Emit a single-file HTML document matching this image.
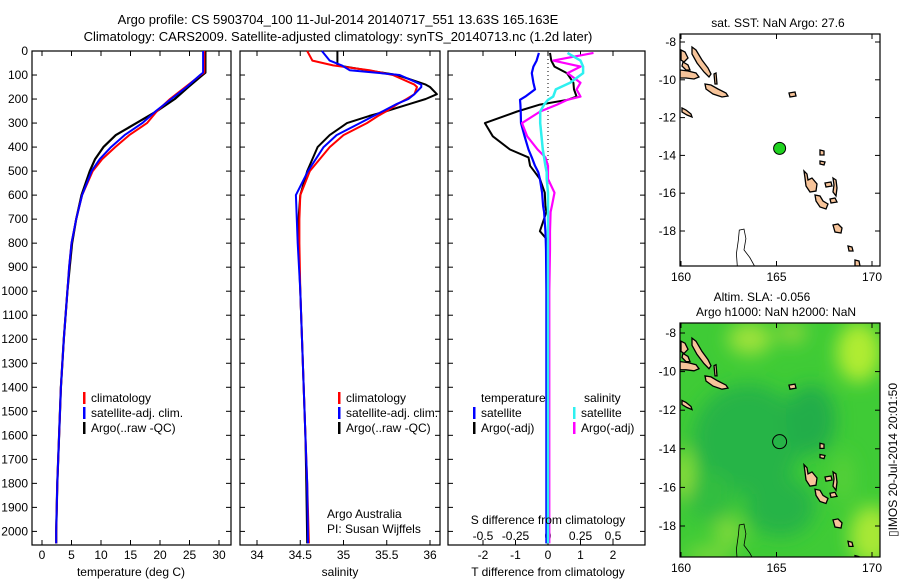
<!DOCTYPE html>
<html><head><meta charset="utf-8"><style>
body{margin:0;background:#fff;}
svg{display:block;font-family:"Liberation Sans",sans-serif;}
</style></head><body>
<svg id="fig" width="900" height="580" viewBox="0 0 900 580" xmlns="http://www.w3.org/2000/svg">
<text x="338" y="24" font-size="13" text-anchor="middle">Argo profile: CS 5903704_100 11-Jul-2014 20140717_551 13.63S 165.163E</text>
<text x="338" y="41" font-size="13" text-anchor="middle">Climatology: CARS2009. Satellite-adjusted climatology: synTS_20140713.nc (1.2d later)</text>
<g id="g1"></g>
<g id="g2"></g>
<g id="g3"></g>
<g id="m1"></g>
<g id="m2"></g>
<text x="778" y="27" font-size="12" text-anchor="middle">sat. SST: NaN Argo: 27.6</text>
<text x="762" y="301" font-size="12" text-anchor="middle">Altim. SLA: -0.056</text>
<text x="776" y="316" font-size="12" text-anchor="middle">Argo h1000: NaN h2000: NaN</text>
<text x="0" y="0" font-size="12" text-anchor="middle" transform="translate(897,460) rotate(-90)">▯IMOS 20-Jul-2014 20:01:50</text>
</svg>
<script>
// ---- data ----
const depthT   = [0,90,100,150,200,250,300,350,400,450,500,600,700,800,900,1000,1200,1400,1600,1800,2000,2050];
const tempArgo = [27.7,27.7,27.2,24.8,22.5,19.5,16.0,12.5,10.4,9.0,8.1,6.7,5.8,5.1,4.7,4.3,3.7,3.2,2.9,2.6,2.4,2.4];
const tempClim = [27.5,27.5,26.9,24.3,21.7,19.5,17.8,14.8,12.4,10.2,8.6,6.8,5.8,5.0,4.6,4.3,3.7,3.2,2.9,2.6,2.4,2.4];
const tempSat  = [27.3,27.3,26.8,24.5,21.9,19.3,17.0,14.0,11.7,9.8,8.4,6.8,5.8,5.0,4.6,4.3,3.7,3.2,2.9,2.6,2.4,2.4];
const depthS   = [0,40,60,80,100,140,150,180,200,220,250,270,300,350,400,500,600,700,800,1000,1200,1400,1600,1800,2050];
const salArgo  = [34.93,34.93,34.93,35.27,35.62,35.95,36.0,36.08,35.95,35.77,35.5,35.3,35.04,34.84,34.7,34.58,34.5,34.48,34.48,34.5,34.52,34.54,34.56,34.57,34.58];
const salClim  = [34.58,34.64,34.88,35.3,35.57,35.82,35.85,35.82,35.73,35.63,35.5,35.4,35.27,35.0,34.84,34.61,34.5,34.49,34.49,34.5,34.52,34.54,34.56,34.58,34.6];
const salSat   = [34.75,34.84,34.98,35.07,35.65,35.9,35.9,35.82,35.75,35.62,35.46,35.35,35.19,34.92,34.77,34.59,34.45,34.46,34.47,34.5,34.52,34.54,34.56,34.58,34.59];
const depthD   = [8,40,65,92,132,160,190,203,223,252,300,355,410,443,478,505,533,590,645,670,750,782,825,1000,1500,2050];
const dTsat    = [-0.28,-0.35,-0.45,-0.5,-0.45,-0.4,-0.7,-0.86,-0.85,-0.84,-0.83,-0.72,-0.6,-0.5,-0.4,-0.3,-0.25,-0.18,-0.15,-0.12,-0.08,-0.07,-0.06,-0.05,-0.05,-0.05];
const dTargo   = [0.06,0.1,0.2,0.58,0.78,0.8,0.88,0.6,-0.25,-0.95,-1.94,-1.7,-1.17,-0.6,-0.55,-0.4,-0.25,-0.1,-0.08,-0.05,-0.25,-0.05,-0.03,-0.03,-0.03,-0.03];
const dSsat    = [0.15,0.25,0.27,0.27,0.17,0.06,0.04,0.0,-0.03,-0.06,-0.06,-0.05,-0.04,-0.03,-0.02,-0.01,-0.01,0,0,0,0,0,0,0,0,0];
const dSargo   = [0.35,0.04,0.25,0.15,0.25,0.22,0.25,0.15,0.07,-0.06,-0.2,-0.16,-0.08,-0.02,0.0,0.0,0.0,0.05,0.03,0.02,0.015,0.015,0.015,0.01,0.01,0.01];
const depthTicks = [0,100,200,300,400,500,600,700,800,900,1000,1100,1200,1300,1400,1500,1600,1700,1800,1900,2000];
const tTicks = [0,5,10,15,20,25,30];
const sTicks = [34,34.5,35,35.5,36];
const sTickLbl = ["34","34.5","35","35.5","36"];
const dtTicks = [-2,-1,0,1,2];
const dsTicks = [-0.5,-0.25,0,0.25,0.5];
const dsTickLbl = ["-0.5","-0.25","0","0.25","0.5"];
const lonTicks = [160,165,170];
const latTicks = [-8,-10,-12,-14,-16,-18];
const floatLon = 165.163, floatLat = -13.63;

const NS="http://www.w3.org/2000/svg";
function mk(parent,tag,attrs){const e=document.createElementNS(NS,tag);for(const k in attrs)e.setAttribute(k,attrs[k]);parent.appendChild(e);return e;}
const yD = d => 51 + d*0.2402;
const xT = t => 42 + t*5.9;
const xS = s => 257 + (s-34)*86.5;
const xDT = v => 548 + v*32.5;
const xDS = v => 548 + v*130;
const TOP=51, BOT=545;

function frame(g,x0,x1){
  const r=mk(g,'rect',{x:x0,y:TOP,width:x1-x0,height:BOT-TOP,fill:'none',stroke:'#000','stroke-width':1.2});
  
  
}
function xTicks(g,vals,fx,labels,ly,name){
  vals.forEach((v,i)=>{
    const x=fx(v);
    mk(g,'line',{x1:x,x2:x,y1:TOP,y2:TOP+5,stroke:'#000'});
    mk(g,'line',{x1:x,x2:x,y1:BOT,y2:BOT-5,stroke:'#000'});
    const t=mk(g,'text',{x:x,y:ly,'font-size':12,'text-anchor':'middle'});
    t.textContent=labels?labels[i]:String(v);
    
    
  });
}
function line(g,xs,ds,fx,col,w,name){
  const pts=xs.map((v,i)=>fx(v).toFixed(1)+','+yD(ds[i]).toFixed(1)).join(' ');
  const p=mk(g,'polyline',{points:pts,fill:'none',stroke:col,'stroke-width':w,'stroke-linejoin':'round'});
  
  
}
function txt(g,x,y,s,name,anchor){
  const t=mk(g,'text',{x:x,y:y,'font-size':12,'text-anchor':anchor||'start'});
  t.textContent=s;
  
  
}
function legend(g,x,y,col,label,name){
  mk(g,'rect',{x:x,y:y-10,width:2.5,height:12,fill:col});
  txt(g,x+8,y,label,name);
}

// panel 1
const g1=document.getElementById('g1');
frame(g1,32,231);
depthTicks.forEach(d=>{
  mk(g1,'line',{x1:32,x2:37,y1:yD(d),y2:yD(d),stroke:'#000'});
  mk(g1,'line',{x1:226,x2:231,y1:yD(d),y2:yD(d),stroke:'#000'});
  const t=mk(g1,'text',{x:28,y:yD(d)+4,'font-size':12,'text-anchor':'end'});
  t.textContent=String(d);
  
  
});
xTicks(g1,tTicks,xT,null,559,'temperature-tick-label');
line(g1,tempArgo,depthT,xT,'#000',2.2,'temperature-argo-line');
line(g1,tempClim,depthT,xT,'#f00',2,'temperature-climatology-line');
line(g1,tempSat,depthT,xT,'#00f',2,'temperature-satellite-line');
txt(g1,131,576,'temperature (deg C)','temperature-axis-title','middle');
legend(g1,83,402,'#f00','climatology','legend-climatology');
legend(g1,83,417,'#00f','satellite-adj. clim.','legend-satellite');
legend(g1,83,432,'#000','Argo(..raw -QC)','legend-argo');

// panel 2
const g2=document.getElementById('g2');
frame(g2,240,440);
depthTicks.forEach(d=>{
  mk(g2,'line',{x1:240,x2:245,y1:yD(d),y2:yD(d),stroke:'#000'});
  mk(g2,'line',{x1:435,x2:440,y1:yD(d),y2:yD(d),stroke:'#000'});
});
xTicks(g2,sTicks,xS,sTickLbl,559,'salinity-tick-label');
line(g2,salArgo,depthS,xS,'#000',2,'salinity-argo-line');
line(g2,salClim,depthS,xS,'#f00',2,'salinity-climatology-line');
line(g2,salSat,depthS,xS,'#00f',2,'salinity-satellite-line');
txt(g2,340,576,'salinity','salinity-axis-title','middle');
legend(g2,338,402,'#f00','climatology','legend-climatology');
legend(g2,338,417,'#00f','satellite-adj. clim.','legend-satellite');
legend(g2,338,432,'#000','Argo(..raw -QC)','legend-argo');
txt(g2,327,518,'Argo Australia','credit-line-1');
txt(g2,327,533,'PI: Susan Wijffels','credit-line-2');

// panel 3
const g3=document.getElementById('g3');
frame(g3,448,645);
depthTicks.forEach(d=>{
  mk(g3,'line',{x1:448,x2:453,y1:yD(d),y2:yD(d),stroke:'#000'});
  mk(g3,'line',{x1:640,x2:645,y1:yD(d),y2:yD(d),stroke:'#000'});
});
xTicks(g3,dtTicks,xDT,null,559,'t-diff-tick-label');
dsTicks.forEach((v,i)=>txt(g3,xDS(v),540,dsTickLbl[i],'s-diff-tick-label','middle'));
mk(g3,'line',{x1:548,x2:548,y1:TOP,y2:yD(600),stroke:'#000','stroke-dasharray':'1,3'});
line(g3,dTargo,depthD,xDT,'#000',2,'t-diff-argo-line');
line(g3,dTsat,depthD,xDT,'#00f',2.2,'t-diff-satellite-line');
line(g3,dSargo,depthD,xDS,'#f0f',2.2,'s-diff-argo-line');
line(g3,dSsat,depthD,xDS,'#2ef0f0',2.5,'s-diff-satellite-line');
txt(g3,548,576,'T difference from climatology','t-diff-axis-title','middle');
txt(g3,548,524,'S difference from climatology','s-diff-axis-title','middle');
txt(g3,481,402,'temperature','legend-temperature-header');
txt(g3,584,402,'salinity','legend-salinity-header');
legend(g3,473,417,'#00f','satellite','legend-t-satellite');
legend(g3,473,432,'#000','Argo(-adj)','legend-t-argo');
legend(g3,573,417,'#2ef0f0','satellite','legend-s-satellite');
legend(g3,573,432,'#f0f','Argo(-adj)','legend-s-argo');

// maps: island outlines given in reference-map pixel coords, converted to lon/lat
const pxLon = x => 160+(x-681)/19.1;
const pxLat = y => -8-(y-42)/18.9;
const islandsPx=[
 [[692,47],[696,50],[702,60],[708,68],[711,74],[709,77],[704,72],[697,63],[692,54]],
 [[680,70],[688,71],[696,73],[699,77],[694,79],[686,78],[680,78]],
 [[705,84],[711,85],[718,89],[726,93],[728,96],[722,97],[713,94],[706,89]],
 [[682,108],[686,110],[691,114],[692,117],[687,115],[682,112]],
 [[681,50],[685,52],[688,58],[684,62],[681,60]],
 [[683,62],[688,65],[690,70],[686,70],[682,66]],
 [[804,171],[807,174],[808,180],[812,178],[817,184],[816,191],[810,192],[806,186],[805,178]],
 [[815,195],[820,196],[823,201],[828,204],[826,209],[820,207],[816,201]],
 [[833,225],[838,224],[842,228],[841,233],[835,232]],
 [[833,178],[836,180],[837,188],[836,196],[833,192],[834,185]],
 [[825,183],[831,182],[832,186],[826,187]],
 [[830,199],[835,198],[837,202],[831,203]],
 [[820,150],[824,151],[824,155],[820,155]],
 [[820,161],[825,162],[824,165],[820,164]],
 [[789,93],[795,92],[796,96],[790,97]],
 [[848,246],[852,247],[853,251],[849,251]],
 [[855,260],[859,261],[860,266],[855,266]],
 [[714,74],[716,73],[717,84],[715,84]]
];
const islands=islandsPx.map(p=>p.map(q=>[pxLon(q[0]),pxLat(q[1])]));
const reef=[[162.95,-19.85],[162.9,-19.2],[163.0,-18.5],[163.05,-17.95],[163.3,-17.9],[163.4,-18.4],[163.3,-19.0],[163.6,-19.4],[163.85,-19.85]];
function drawMap(gid,top,bot,latTop,latScale,field){
  const g=document.getElementById(gid);
  const L=680,R=880;
  const fx=lon=>681+(lon-160)*19.1;
  const fy=lat=>latTop+(-8-lat)*latScale;
  const clip=mk(g,'clipPath',{id:gid+'c'});
  mk(clip,'rect',{x:L,y:top,width:R-L,height:bot-top});
  const inner=mk(g,'g',{'clip-path':'url(#'+gid+'c)'});
  if(field){
    const defs=mk(g,'defs',{});
    const f=mk(defs,'filter',{id:'bl',x:'-50%',y:'-50%',width:'200%',height:'200%'});
    mk(f,'feGaussianBlur',{stdDeviation:9});
    mk(inner,'rect',{x:L,y:top,width:R-L,height:bot-top,fill:'#3fcb36'});
    const fg=mk(inner,'g',{filter:'url(#bl)'});
    [[163.5,-13.5,55,55,'#27b447'],[166.8,-12.5,25,35,'#23ad4a'],[165.2,-17,35,30,'#27b447'],[161.5,-16.5,25,25,'#30bd40'],
     [163.6,-8.3,22,16,'#9ee23a'],[165.8,-8.0,15,10,'#8ed83a'],[169.3,-9,22,30,'#b0ec30'],[170,-18.5,22,30,'#a8e834'],
     [160.1,-15.3,8,25,'#9ee23a'],[162.5,-18.3,15,14,'#7fd93a'],[168.5,-15.5,10,25,'#58d038'],[161.5,-19.5,25,8,'#7fd93a']
    ].forEach(e=>mk(fg,'ellipse',{cx:fx(e[0]),cy:fy(e[1]),rx:e[2],ry:e[3],fill:e[4]}));
  }
  islands.forEach(p=>{
    const poly=mk(inner,'polygon',{points:p.map(q=>fx(q[0]).toFixed(1)+','+fy(q[1]).toFixed(1)).join(' '),fill:'#f7c49a',stroke:'#000','stroke-width':1.3});
    
    
  });
  mk(inner,'polyline',{points:reef.map(q=>fx(q[0]).toFixed(1)+','+fy(q[1]).toFixed(1)).join(' '),fill:'none',stroke:'#000','stroke-width':0.8});
  const fr=mk(g,'rect',{x:L,y:top,width:R-L,height:bot-top,fill:'none',stroke:'#000','stroke-width':1.2});
  
  
  lonTicks.forEach(v=>{
    const x=fx(v);
    mk(g,'line',{x1:x,x2:x,y1:top,y2:top+5,stroke:'#000'});
    mk(g,'line',{x1:x,x2:x,y1:bot,y2:bot-5,stroke:'#000'});
    txt(g,x,bot+15,String(v),'longitude-tick-label','middle');
  });
  latTicks.forEach(v=>{
    const y=fy(v);
    mk(g,'line',{x1:L,x2:L+5,y1:y,y2:y,stroke:'#000'});
    mk(g,'line',{x1:R-5,x2:R,y1:y,y2:y,stroke:'#000'});
    txt(g,L-4,y+4,String(v),'latitude-tick-label','end');
  });
  const m=mk(g,'circle',{cx:fx(floatLon),cy:fy(floatLat),r:field?7:6,fill:field?'none':'#1fd21f',stroke:'#000','stroke-width':1});
  
  
}
drawMap('m1',34,266,42,18.9,false);
drawMap('m2',323,557,333,19.3,true);
</script>
</body></html>
